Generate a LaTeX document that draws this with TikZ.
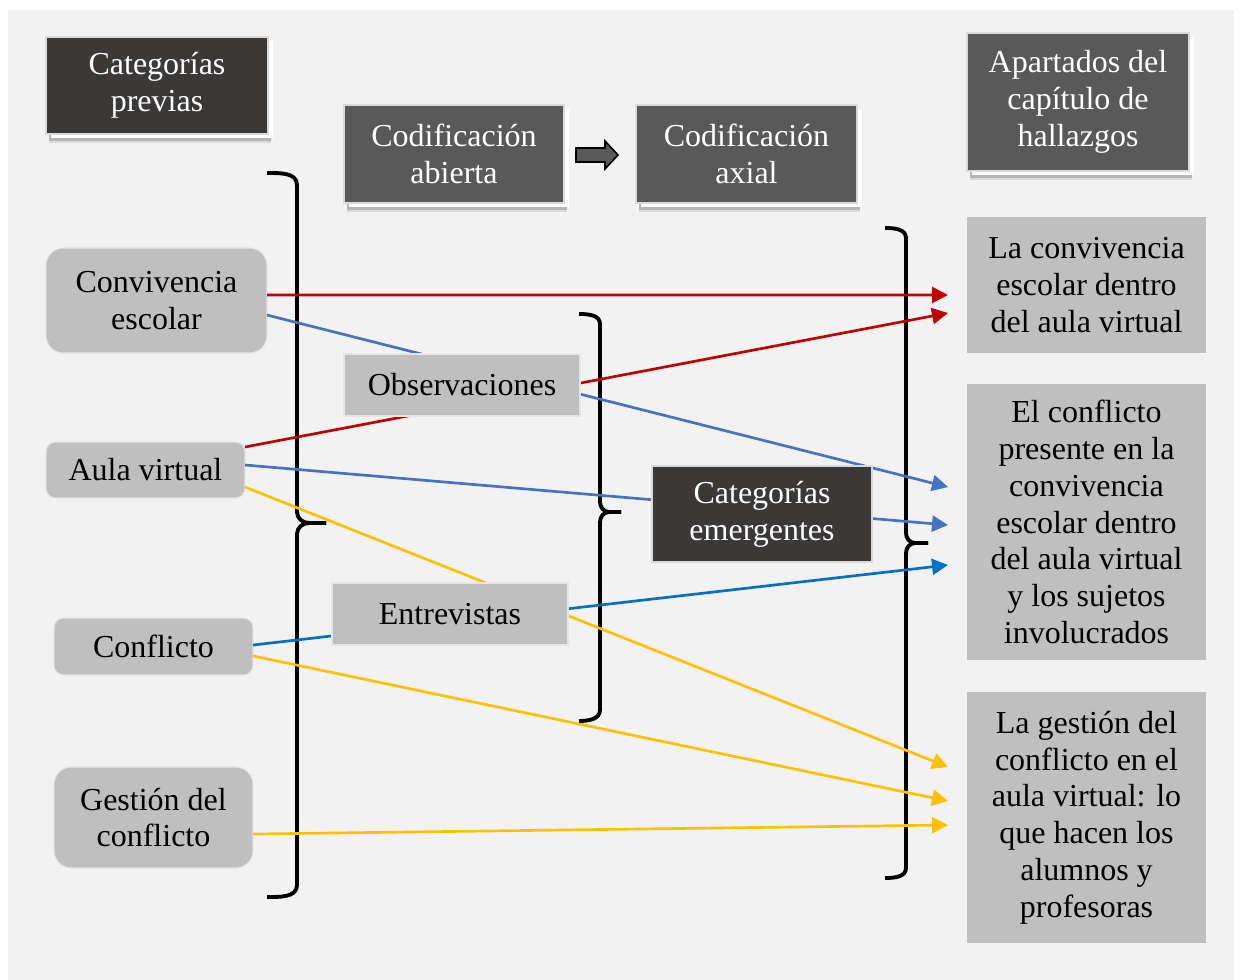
\documentclass[tikz,border=0pt]{standalone}
\usepackage{fontspec}
\setmainfont{Liberation Serif}
\usetikzlibrary{shadows,arrows.meta}
\definecolor{bgc}{HTML}{F2F2F2}
\definecolor{lgray}{HTML}{BFBFBF}
\definecolor{darkA}{HTML}{3B3838}
\definecolor{darkB}{HTML}{595959}
\definecolor{redc}{HTML}{C00000}
\definecolor{bluea}{HTML}{4472C4}
\definecolor{blueb}{HTML}{0070C0}
\definecolor{yellc}{HTML}{FFC000}
\begin{document}
\begin{tikzpicture}[x=0.75pt,y=-0.75pt,
  box/.style n args={4}{at={({(#1+#3)/2},{(#2+#4)/2})}, minimum width={(#3-#1)*0.75pt}, minimum height={(#4-#2)*0.75pt}},
  txt/.style={font=\fontsize{24}{27.6}\selectfont, align=center, inner sep=0pt, outer sep=0pt},
  lbox/.style={txt, fill=lgray, draw=black!10, line width=0.8pt},
  darkbox/.style={txt, text=white, fill=#1, draw=black!15, line width=0.8pt},
  cardshadow/.style={general shadow={fill=black!70, opacity=0.15, shadow xshift=2.5pt, shadow yshift=-7pt},
                     general shadow={fill=black!70, opacity=0.25, shadow xshift=2pt, shadow yshift=-5pt},
                     general shadow={fill=white, shadow xshift=3.5pt, shadow yshift=-3pt}},
  brk/.style={line width=2.9pt, line cap=butt, line join=round},
  conn/.style={line width=2pt, -{Triangle[length=12pt,width=12pt]}}
]
\useasboundingbox (0,0) rectangle (1244,980);
\fill[white] (0,0) rectangle (1244,980);
\fill[bgc] (8,10) rectangle (1234,980);

% header boxes
\node[darkbox=darkA, cardshadow, box={46}{37}{268}{134}] (catprev) {Categorías\\previas};
\node[darkbox=darkB, cardshadow, box={344}{105}{564}{203}] (codab) {Codificación\\abierta};
\node[darkbox=darkB, cardshadow, box={636}{105}{857}{203}] (codax) {Codificación\\axial};
\node[darkbox=darkB, cardshadow, box={967}{33}{1189}{171}] (apart) {Apartados del\\capítulo de\\hallazgos};
\draw[fill=darkB, draw=black, line width=1.2pt, line join=miter]
  (576,148) -- (605,148) -- (605,141) -- (618,155) -- (605,169) -- (605,162) -- (576,162) -- cycle;

% left categories
\node[lbox, rounded corners=13pt, box={46}{248}{267}{353}] (conv) {Convivencia\\escolar};
\node[lbox, rounded corners=7pt, box={46}{442}{245}{498}] (aula) {Aula virtual};
\node[lbox, rounded corners=7pt, box={54}{618}{253}{675}] (conf) {Conflicto};
\node[lbox, rounded corners=13pt, box={54}{767}{253}{868}] (gest) {Gestión del\\conflicto};

% right sections
\node[lbox, draw=none, box={967}{217}{1206}{353}] (sec1) {La convivencia\\escolar dentro\\del aula virtual};
\node[lbox, draw=none, box={967}{384}{1206}{660}] (sec2) {El conflicto\\presente en la\\convivencia\\escolar dentro\\del aula virtual\\y los sujetos\\involucrados};
\node[lbox, draw=none, box={967}{692}{1206}{943}] (sec3) {La gestión del\\conflicto en el\\aula virtual: lo\\que hacen los\\alumnos y\\profesoras};

% brackets
\draw[brk] (267,173) to[out=0,in=90] (297,185) -- (297,512) to[out=-90,in=180] (309,523) -- (326,523);
\draw[brk] (326,523) -- (309,523) to[out=180,in=90] (297,534) -- (297,885) to[out=-90,in=0] (267,897);
\draw[brk] (579,314) to[out=0,in=90] (600,324) -- (600,502) to[out=-90,in=180] (609,512) -- (621,512);
\draw[brk] (621,512) -- (609,512) to[out=180,in=90] (600,522) -- (600,710) to[out=-90,in=0] (579,721);
\draw[brk] (885,228) to[out=0,in=90] (906,238) -- (906,533) to[out=-90,in=180] (915,543) -- (928,543);
\draw[brk] (928,543) -- (915,543) to[out=180,in=90] (906,553) -- (906,868) to[out=-90,in=0] (885,878);

% arrow end points
\coordinate (e1) at (948,295);
\coordinate (e2) at (948,313);
\coordinate (e3) at (948,487);
\coordinate (e4) at (948,525);
\coordinate (e5) at (948,565);
\coordinate (e6) at (948,767);
\coordinate (e7) at (948,801);
\coordinate (e8) at (948,825);

% connectors
\draw[conn, redc] ([yshift=4.1pt]conv.east) -- (e1);
\draw[conn, redc] ([yshift=17.25pt]aula.east) -- (e2);
\draw[conn, bluea] ([yshift=-10.9pt]conv.east) -- (e3);
\draw[conn, bluea] ([yshift=3.75pt]aula.east) -- (e4);
\draw[conn, blueb] ([yshift=1.1pt]conf.east) -- (e5);
\draw[conn, yellc] ([yshift=-12.75pt]aula.east) -- (e6);
\draw[conn, yellc] ([yshift=-7.1pt]conf.east) -- (e7);
\draw[conn, yellc] ([yshift=-12.4pt]gest.east) -- (e8);

% middle boxes (on top of the lines)
\node[lbox, box={344}{354}{580}{416}] (obs) {Observaciones};
\node[lbox, box={332}{583}{568}{645}] (entr) {Entrevistas};
\node[darkbox=darkA, box={652}{466}{872}{562}] (catem) {Categorías\\emergentes};
\end{tikzpicture}
\end{document}
